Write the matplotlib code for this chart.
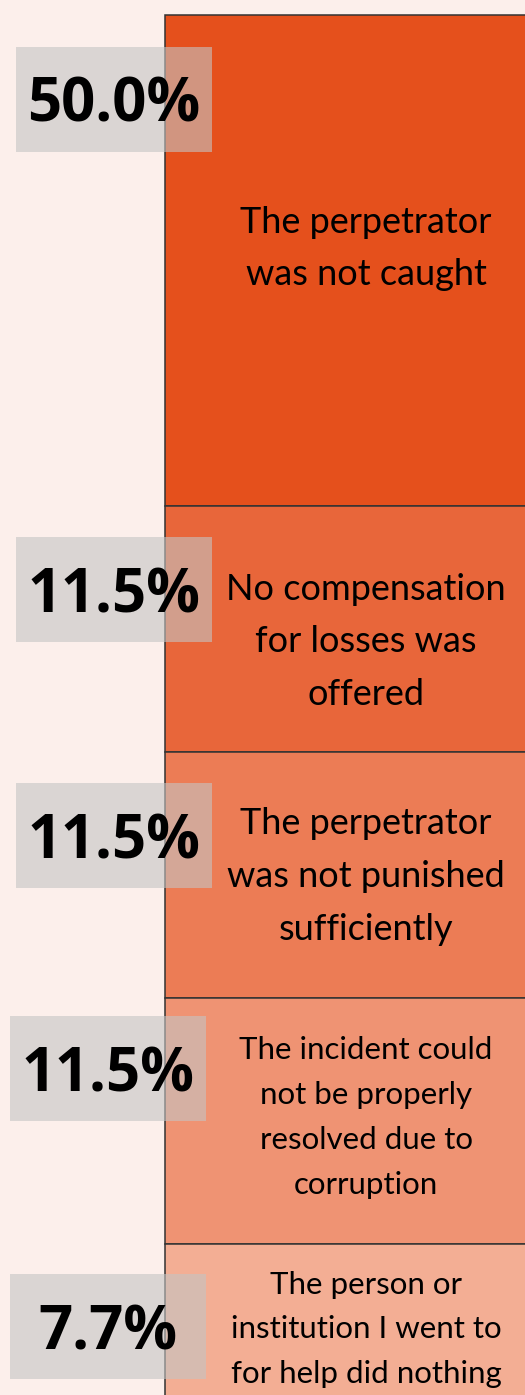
import matplotlib.pyplot as plt
from matplotlib.patches import Rectangle

# reasons for dissatisfaction (share of respondents, %)
reasons = [
    "The perpetrator\nwas not caught",
    "No compensation\nfor losses was\noffered",
    "The perpetrator\nwas not punished\nsufficiently",
    "The incident could\nnot be properly\nresolved due to\ncorruption",
    "The person or\ninstitution I went to\nfor help did nothing",
]
shares = [50.0, 11.5, 11.5, 11.5, 7.7]
colors = ["#e5501c", "#e8663a", "#ec7c55", "#ef9373", "#f3ae94"]

bg = "#fcefeb"
W, H = 525, 1395

fig = plt.figure(figsize=(W / 100, H / 100), dpi=100, facecolor=bg)
ax = fig.add_axes([0, 0, 1, 1])
ax.set_facecolor(bg)
ax.set_xlim(0, W)
ax.set_ylim(H, 0)
ax.axis("off")

# segment height grows with the share (with a minimum block size)
heights = [172.8 + 6.36 * s for s in shares]
label_x = [114, 114, 114, 108, 108]
label_dy = [84, 84, 84, 71, 83]
text_dy = [-12, 13, 2, -3, 10]
text_size = [26, 26, 26, 22.5, 22.5]

top = 15
for i, (r, s, h, c) in enumerate(zip(reasons, shares, heights, colors)):
    ax.bar(164.5, h, width=403, bottom=top, align="edge", color=c,
           edgecolor="#333333", linewidth=1.1, zorder=1)
    vis_bot = min(top + h, H)
    ax.text(366, (top + vis_bot) / 2 + text_dy[i], r, ha="center",
            va="center", fontsize=text_size[i], family="Lato", color="black",
            linespacing=1.73, zorder=2)
    cy = top + label_dy[i]
    ax.add_patch(Rectangle((label_x[i] - 98, cy - 52.5), 196, 105,
                           facecolor="#c4c4c4", alpha=0.6, edgecolor="none",
                           zorder=3))
    ax.text(label_x[i], cy, f"{s:.1f}%", ha="center", va="center_baseline",
            fontsize=43, fontweight="bold", family="Open Sans", color="black",
            zorder=4)
    top += h

fig.savefig("out.png", dpi=100, facecolor=bg)
